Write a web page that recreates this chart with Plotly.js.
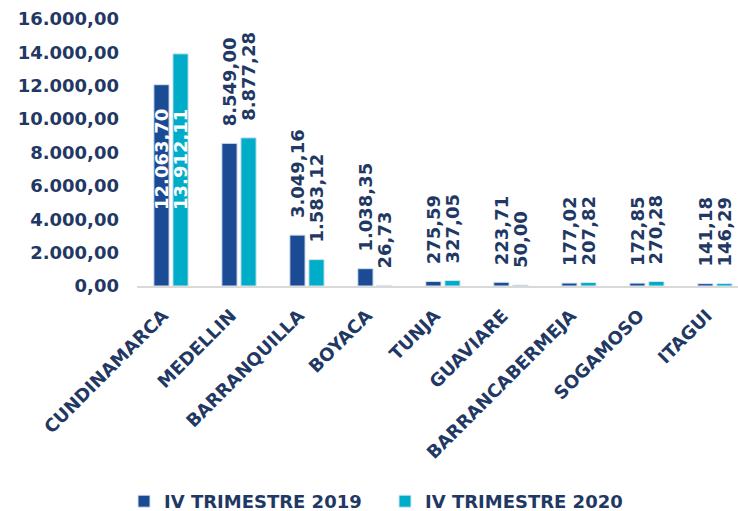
<!DOCTYPE html>
<html><head><meta charset="utf-8">
<script src="https://cdn.plot.ly/plotly-3.0.1.min.js"></script>
<style>html,body{margin:0;padding:0;background:#fff}</style>
</head><body><div id="chart" style="width:738px;height:511px"></div>
<script>
const categories = ['CUNDINAMARCA','MEDELLIN','BARRANQUILLA','BOYACA','TUNJA','GUAVIARE','BARRANCABERMEJA','SOGAMOSO','ITAGUI'];
const seriesNames = ['IV TRIMESTRE 2019','IV TRIMESTRE 2020'];
const values2019 = [12063.70, 8549.00, 3049.16, 1038.35, 275.59, 223.71, 177.02, 172.85, 141.18];
const values2020 = [13912.11, 8877.28, 1583.12, 26.73, 327.05, 50.00, 207.82, 270.28, 146.29];
const insideLabelCategories = ['CUNDINAMARCA'];
const yTickValues = [0, 2000, 4000, 6000, 8000, 10000, 12000, 14000, 16000];

const FONT = 'DejaVu Sans, Verdana, sans-serif';
const NAVY = '#1f3864';
const COLORS = ['#1a4b94', '#00adc9'];

function fmt(v){
  const parts = v.toFixed(2).split('.');
  return parts[0].replace(/\B(?=(\d{3})+(?!\d))/g, '.') + ',' + parts[1];
}

const allSeries = [values2019, values2020];
const traces = allSeries.map((vals, s) => ({
  type: 'bar',
  name: seriesNames[s],
  x: categories,
  y: vals,
  marker: {color: COLORS[s], line: {color: '#d6e4f0', width: 1}},
  hoverinfo: 'none'
}));

const annotations = [];
allSeries.forEach((vals, s) => {
  vals.forEach((v, i) => {
    const inside = insideLabelCategories.includes(categories[i]);
    annotations.push({
      x: categories[i], y: inside ? 0 : v, xref: 'x', yref: 'y',
      text: fmt(v), textangle: -90, showarrow: false,
      xanchor: 'center', yanchor: 'bottom',
      xshift: s === 0 ? -9.5 : 9.5, yshift: inside ? 74 : 15,
      font: {family: FONT, size: 18, weight: 'bold', color: inside ? '#ffffff' : NAVY}
    });
  });
});

const layout = {
  width: 738, height: 511,
  margin: {l: 137, r: 0, t: 19, b: 225, pad: 0, autoexpand: false},
  paper_bgcolor: '#ffffff', plot_bgcolor: '#ffffff',
  separators: ',.',
  barmode: 'group', bargap: 0.44, bargroupgap: 0.2,
  font: {family: FONT, size: 18, weight: 'bold', color: NAVY},
  xaxis: {
    type: 'category', range: [-0.5, 8.34], fixedrange: true,
    showline: true, linecolor: '#d9d9d9', linewidth: 2,
    showgrid: false, zeroline: false, ticks: '',
    tickangle: -45, ticklabelstandoff: 10, ticklabelshift: -8,
    tickfont: {family: FONT, size: 18, weight: 'bold', color: NAVY}
  },
  yaxis: {
    range: [0, 16000], tickvals: yTickValues, tickformat: ',.2f',
    showline: false, showgrid: false, zeroline: false, ticks: '',
    ticklabelstandoff: 17,
    tickfont: {family: FONT, size: 18, weight: 'bold', color: NAVY}
  },
  showlegend: true,
  legend: {
    orientation: 'h', xref: 'container', yref: 'paper',
    x: 124/738, xanchor: 'left', y: -(520 - 286) / 267, yanchor: 'bottom',
    entrywidth: 216, entrywidthmode: 'pixels',
    font: {family: FONT, size: 18, weight: 'bold', color: NAVY},
    bgcolor: 'rgba(0,0,0,0)'
  },
  annotations: annotations
};

Plotly.newPlot('chart', traces, layout, {displayModeBar: false, staticPlot: true});
</script></body></html>
